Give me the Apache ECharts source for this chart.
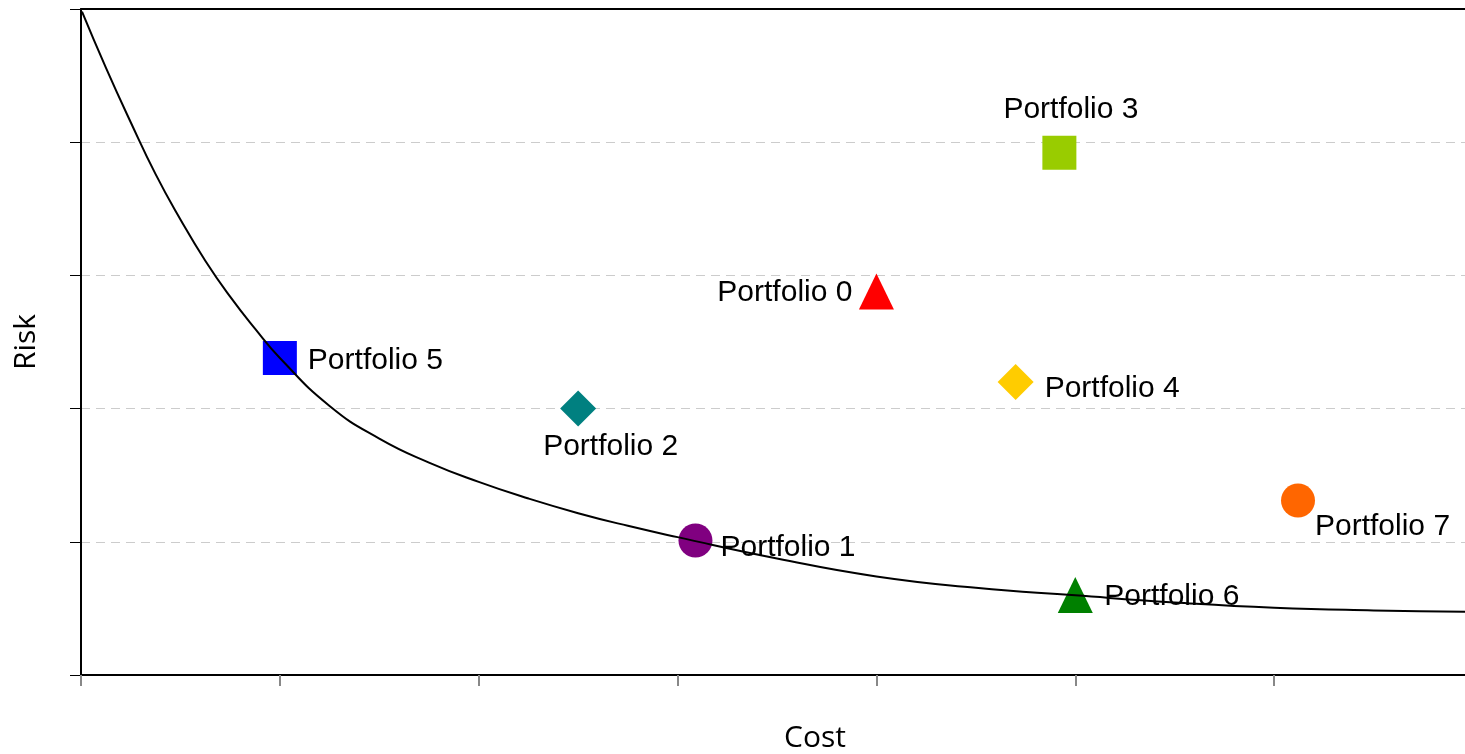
<!DOCTYPE html>
<html>
<head>
<meta charset="utf-8">
<title>Risk vs Cost</title>
<script src="https://cdn.jsdelivr.net/npm/echarts@6/dist/echarts.min.js"></script>
<style>
  html, body { margin: 0; padding: 0; background: #fff; }
  #chart { width: 1465px; height: 754px; }
</style>
</head>
<body>
<div id="chart"></div>
<script>
// portfolios (cost, risk)
var portfolioNames = ["Portfolio 0", "Portfolio 1", "Portfolio 2", "Portfolio 3",
                      "Portfolio 4", "Portfolio 5", "Portfolio 6", "Portfolio 7"];
var portfolioCost = [4.0, 3.09, 2.5, 4.92, 4.70, 1.0, 5.0, 6.12];
var portfolioRisk = [2.88, 1.01, 2.0, 3.92, 2.2, 2.38, 0.6, 1.31];

// efficient frontier curve
var curveCost = [0.005, 0.125, 0.25, 0.375, 0.5, 0.625, 0.75, 0.875, 1.0,
                 1.25, 1.5, 1.75, 2.0, 2.25, 2.5, 2.75, 3.0, 3.5,
                 4.0, 4.5, 5.0, 5.5, 6.0, 6.5, 7.0];
var curveRisk = [4.98, 4.56, 4.15, 3.76, 3.42, 3.11, 2.84, 2.60, 2.38,
                 2.02, 1.775, 1.595, 1.45, 1.325, 1.215, 1.12, 1.035, 0.875,
                 0.74, 0.655, 0.598, 0.545, 0.505, 0.485, 0.475];

// marker look + where each label sits relative to its marker
var markerStyle = {
  "Portfolio 0": { symbol: "triangle", size: [35, 36], color: "#FF0000", align: "right", offset: [-24, 1] },
  "Portfolio 1": { symbol: "circle", size: 34, color: "#800080", align: "left", offset: [25, 7] },
  "Portfolio 2": { symbol: "diamond", size: 36, color: "#008080", align: "left", offset: [-35, 38] },
  "Portfolio 3": { symbol: "rect", size: 34, color: "#99CC00", align: "left", offset: [-56, -43] },
  "Portfolio 4": { symbol: "diamond", size: 36, color: "#FFCC00", align: "left", offset: [29, 7] },
  "Portfolio 5": { symbol: "rect", size: 34, color: "#0000FF", align: "left", offset: [28, 3] },
  "Portfolio 6": { symbol: "triangle", size: [35, 36], color: "#008000", align: "left", offset: [29, 2] },
  "Portfolio 7": { symbol: "circle", size: 34, color: "#FF6600", align: "left", offset: [17, 26] }
};

var curveData = curveCost.map(function (c, i) {
  return [c, curveRisk[i]];
});

var series = [];
portfolioNames.forEach(function (name, i) {
  var s = markerStyle[name];
  series.push({
    name: name,
    type: "scatter",
    z: 2,
    symbol: s.symbol,
    symbolSize: s.size,
    itemStyle: { color: s.color, opacity: 1 },
    label: {
      show: true,
      formatter: name,
      position: "inside",
      align: s.align,
      verticalAlign: "middle",
      offset: s.offset,
      color: "#000",
      fontFamily: "Liberation Sans, Arial, sans-serif",
      fontSize: 30
    },
    data: [[portfolioCost[i], portfolioRisk[i]]]
  });
});

series.push({
  name: "Frontier",
  type: "line",
  z: 5,
  smooth: 0.5,
  showSymbol: false,
  silent: true,
  lineStyle: { color: "#000", width: 2 },
  data: curveData
});

var option = {
  backgroundColor: "#fff",
  animation: false,
  grid: {
    left: 81,
    top: 9,
    width: 1392,
    height: 666,
    outerBoundsMode: "none",
    containLabel: false
  },
  xAxis: [
    {
      type: "value",
      min: 0,
      max: 7,
      interval: 1,
      name: "Cost",
      nameLocation: "middle",
      nameGap: 48,
      nameTextStyle: {
        fontFamily: "Open Sans",
        fontSize: 30,
        color: "#000",
        padding: [0, 0, 0, 76]
      },
      axisLine: { lineStyle: { color: "#000", width: 2 } },
      axisTick: { show: true, length: 11, lineStyle: { color: "#888", width: 2 } },
      axisLabel: { show: false },
      splitLine: { show: false }
    },
    {
      // plain line along the top of the plot
      type: "value",
      position: "top",
      min: 0,
      max: 7,
      axisLine: { show: true, lineStyle: { color: "#000", width: 2 } },
      axisTick: { show: false },
      axisLabel: { show: false },
      splitLine: { show: false }
    }
  ],
  yAxis: {
    type: "value",
    min: 0,
    max: 5,
    interval: 1,
    name: "Risk",
    nameLocation: "middle",
    nameGap: 40,
    nameTextStyle: {
      fontFamily: "Open Sans",
      fontSize: 30,
      color: "#000"
    },
    axisLine: { show: true, lineStyle: { color: "#000", width: 2 } },
    axisTick: { show: true, length: 11, lineStyle: { color: "#000", width: 1 } },
    axisLabel: { show: false },
    splitLine: {
      show: true,
      showMinLine: false,
      showMaxLine: false,
      lineStyle: { color: "#cccccc", width: 1, type: [9, 6] }
    }
  },
  series: series
};

var myChart = echarts.init(document.getElementById("chart"));
myChart.setOption(option);
</script>
</body>
</html>
